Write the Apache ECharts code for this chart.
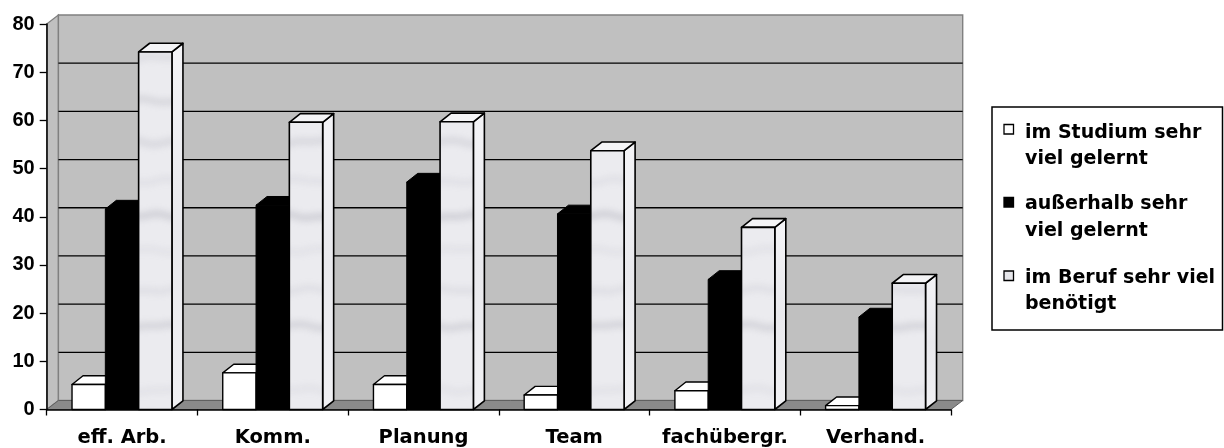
<!DOCTYPE html>
<html>
<head>
<meta charset="utf-8">
<script src="https://cdn.jsdelivr.net/npm/echarts@6/dist/echarts.min.js"></script>
<style>
  html, body { margin: 0; padding: 0; background: #ffffff; }
  #chart { width: 1224px; height: 448px; }
</style>
</head>
<body>
<div id="chart"></div>
<script>
// Skill areas and the share (%) of respondents per answer group
const categories = ['eff. Arb.', 'Komm.', 'Planung', 'Team', 'fachübergr.', 'Verhand.'];
const studium    = [5.2, 7.6, 5.2, 3.0, 3.9, 0.8];      // im Studium sehr viel gelernt
const ausserhalb = [41.6, 42.4, 47.2, 40.6, 27.0, 19.2]; // außerhalb sehr viel gelernt
const beruf      = [74.2, 59.6, 59.7, 53.7, 37.8, 26.2]; // im Beruf sehr viel benötigt
const seriesNames = [
  'im Studium sehr\nviel gelernt',
  'außerhalb sehr\nviel gelernt',
  'im Beruf sehr viel\nbenötigt'
];
const yMin = 0, yMax = 80, yStep = 10;
const gridValues = [10, 20, 30, 40, 50, 60, 70];

// 3-D look: depth offsets of the back wall and of the bars
const WALL_DX = 11.7, WALL_DY = -9;
const BAR_DX = 11, BAR_DY = -8.7;
const BAR_OFFSET = 0.168, BAR_WIDTH = 0.221;

// Marble-like fill for the third series
const marble = (function () {
  const w = 64, h = 360;
  const c = document.createElement('canvas');
  c.width = w; c.height = h;
  const g = c.getContext('2d');
  g.fillStyle = '#ebebef';
  g.fillRect(0, 0, w, h);
  g.filter = 'blur(3px)';
  const streaks = [[30, 0.10, 6], [58, 0.16, 7], [101, 0.26, 6], [142, 0.22, 7], [181, 0.12, 6],
                   [216, 0.30, 7], [250, 0.10, 6], [290, 0.14, 6], [326, 0.26, 7]];
  streaks.forEach(function (s, i) {
    g.strokeStyle = 'rgba(150,150,162,' + s[1] + ')';
    g.lineWidth = s[2];
    g.beginPath();
    for (let x = -8; x <= w + 8; x += 2) {
      const yy = s[0] + 1.5 * Math.sin(2 * Math.PI * x / w + i * 1.7) + 0.8 * Math.sin(4 * Math.PI * x / w + i);
      if (x === -8) g.moveTo(x, yy); else g.lineTo(x, yy);
    }
    g.stroke();
  });
  return c;
})();

const barStyles = [
  { front: '#ffffff', top: '#ffffff', side: '#ffffff', stroke: '#000000', lw: 1.4 },
  { front: '#000000', top: '#000000', side: '#000000', stroke: '#000000', lw: 1 },
  { front: { image: marble, repeat: 'repeat' }, top: '#f4f4f6',
    side: { type: 'linear', x: 0, y: 0, x2: 0, y2: 1,
            colorStops: [{ offset: 0, color: '#f4f4f7' }, { offset: 0.5, color: '#e9e9ed' }, { offset: 1, color: '#f1f1f4' }] },
    stroke: '#000000', lw: 1.6 }
];

function barRenderer(k) {
  const st = barStyles[k];
  return function (params, api) {
    const idx = api.value(0);
    const top = api.coord([idx, api.value(1)]);
    const base = api.coord([idx, 0]);
    const bw = api.size([1, 0])[0];
    const x0 = base[0] - bw / 2 + bw * BAR_OFFSET + k * bw * BAR_WIDTH;
    const x1 = x0 + bw * BAR_WIDTH;
    const yT = top[1], yB = base[1];
    const common = { stroke: st.stroke, lineWidth: st.lw, lineJoin: 'round' };
    return {
      type: 'group',
      children: [
        { type: 'polygon', shape: { points: [[x1, yT], [x1 + BAR_DX, yT + BAR_DY], [x1 + BAR_DX, yB + BAR_DY], [x1, yB]] },
          style: Object.assign({ fill: st.side }, common) },
        { type: 'polygon', shape: { points: [[x0, yT], [x0 + BAR_DX, yT + BAR_DY], [x1 + BAR_DX, yT + BAR_DY], [x1, yT]] },
          style: Object.assign({ fill: st.top }, common) },
        { type: 'rect', shape: { x: x0, y: yT, width: x1 - x0, height: yB - yT },
          style: Object.assign({ fill: st.front }, common) }
      ]
    };
  };
}

// Walls, floor and the gridlines on the back wall
function frameRenderer(params, api) {
  const cs = params.coordSys;
  const L = cs.x, R = cs.x + cs.width;
  const T = api.coord([0, yMax])[1];
  const B = api.coord([0, yMin])[1];
  const children = [
    { type: 'polygon', shape: { points: [[L, T], [L + WALL_DX, T + WALL_DY], [L + WALL_DX, B + WALL_DY], [L, B]] },
      style: { fill: '#c0c0c0', stroke: '#808080', lineWidth: 1.2 } },
    { type: 'rect', shape: { x: L + WALL_DX, y: T + WALL_DY, width: R - L, height: B - T },
      style: { fill: '#c0c0c0', stroke: '#808080', lineWidth: 1.4 } },
    { type: 'polygon', shape: { points: [[L, B], [L + WALL_DX, B + WALL_DY], [R + WALL_DX, B + WALL_DY], [R, B]] },
      style: { fill: '#8a8a8a', stroke: '#606060', lineWidth: 1 } }
  ];
  gridValues.forEach(function (v) {
    const y = api.coord([0, v])[1] + WALL_DY;
    children.push({ type: 'line', shape: { x1: L + WALL_DX, y1: y, x2: R + WALL_DX, y2: y },
      style: { stroke: '#000000', lineWidth: 1.3 } });
  });
  return { type: 'group', children: children };
}

const chart = echarts.init(document.getElementById('chart'), null, { renderer: 'canvas' });

const legendFont = { fontFamily: 'DejaVu Sans', fontWeight: 'bold', fontSize: 19 };
const legendTops = [119.5, 191.2, 264.5];
const legendMarkerTops = [124.5, 197.5, 271];
const legendFills = ['#ffffff', '#000000', '#e6e6ea'];
const legendGraphics = [
  { type: 'rect', shape: { x: 992, y: 107, width: 230.5, height: 223 },
    style: { fill: '#ffffff', stroke: '#000000', lineWidth: 1.5 }, z: 10 }
];
seriesNames.forEach(function (name, i) {
  legendGraphics.push({ type: 'rect', shape: { x: 1004, y: legendMarkerTops[i], width: 9.5, height: 9.5 },
    style: { fill: legendFills[i], stroke: '#000000', lineWidth: 1.3 }, z: 11 });
  legendGraphics.push({ type: 'text', x: 1025, y: legendTops[i], z: 11,
    style: Object.assign({ text: name, fill: '#000000', align: 'left', verticalAlign: 'top', lineHeight: 26.7 }, legendFont) });
});

chart.setOption({
  animation: false,
  backgroundColor: '#ffffff',
  grid: { left: 46.7, right: 273, top: 24, bottom: 38.5, containLabel: false },
  xAxis: {
    type: 'category',
    data: categories,
    boundaryGap: true,
    z: 5,
    axisLine: { show: true, lineStyle: { color: '#000000', width: 1.5 } },
    axisTick: { show: true, interval: 0, alignWithLabel: false, length: 6, lineStyle: { color: '#000000', width: 1.3 } },
    axisLabel: { interval: 0, margin: 18, color: '#000000', fontFamily: 'DejaVu Sans', fontWeight: 'bold', fontSize: 19.5 },
    splitLine: { show: false }
  },
  yAxis: {
    type: 'value',
    min: yMin, max: yMax, interval: yStep,
    z: 5,
    axisLine: { show: true, lineStyle: { color: '#000000', width: 1.5 } },
    axisTick: { show: true, length: 7, lineStyle: { color: '#000000', width: 1.3 } },
    axisLabel: { margin: 12, color: '#000000', fontFamily: 'Liberation Sans', fontWeight: 'bold', fontSize: 20 },
    splitLine: { show: false }
  },
  graphic: legendGraphics,
  series: [
    { type: 'custom', name: 'frame', z: 1, silent: true, renderItem: frameRenderer, data: [[0, 0]], encode: { x: 0, y: 1 } },
    { type: 'custom', name: seriesNames[0], z: 2, renderItem: barRenderer(0),
      data: studium.map(function (v, i) { return [i, v]; }), encode: { x: 0, y: 1 } },
    { type: 'custom', name: seriesNames[1], z: 2, renderItem: barRenderer(1),
      data: ausserhalb.map(function (v, i) { return [i, v]; }), encode: { x: 0, y: 1 } },
    { type: 'custom', name: seriesNames[2], z: 2, renderItem: barRenderer(2),
      data: beruf.map(function (v, i) { return [i, v]; }), encode: { x: 0, y: 1 } }
  ]
});
</script>
</body>
</html>
